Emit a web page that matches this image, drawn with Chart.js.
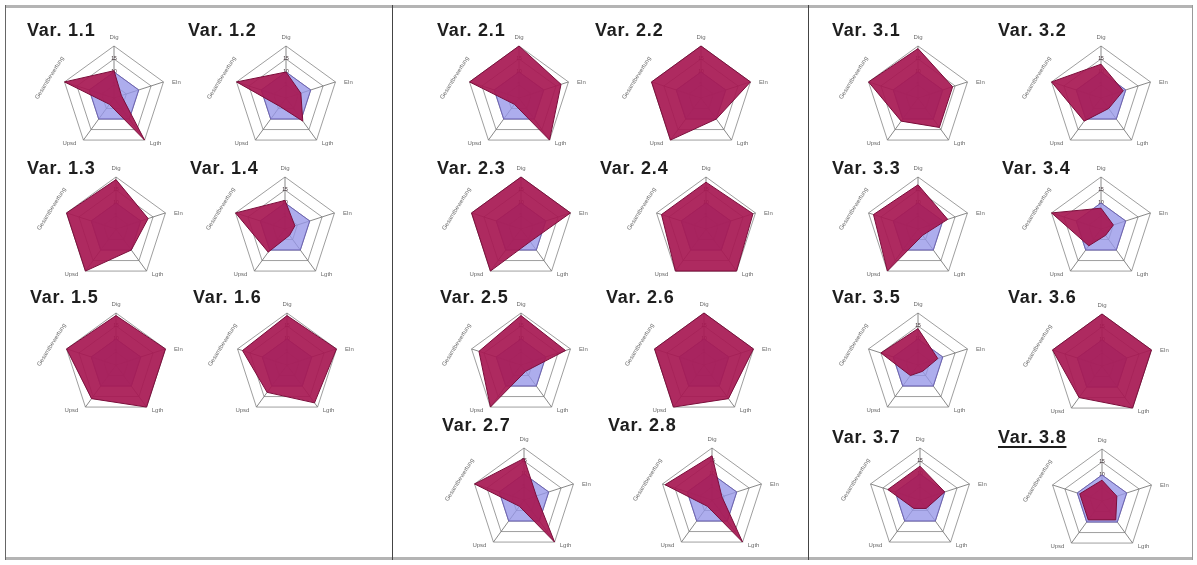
<!DOCTYPE html>
<html>
<head>
<meta charset="utf-8">
<script src="https://cdn.jsdelivr.net/npm/chart.js@4.4.1/dist/chart.umd.min.js"></script>
<style>
  html, body { margin: 0; padding: 0; background: #ffffff; }
  #board { position: relative; width: 1197px; height: 565px; overflow: hidden; background: #fff; }
  .frame { position: absolute; background: #555; }
  .title { position: absolute; font: bold 18px "Liberation Sans", Arial, sans-serif; color: #1e1e1e; line-height: 18px; white-space: nowrap; transform: translateY(-50%); letter-spacing: 0.8px; }
  .title.u { text-decoration: underline; text-decoration-thickness: 2px; text-underline-offset: 3px; }
  canvas { position: absolute; }
</style>
</head>
<body>
<div id="board"></div>
<script>
// Axis names, clockwise from the top
const axisLabels = ['Dig', 'Eln', 'Lgth', 'Upsd', 'Gesamtbewertung'];

// Reference profile drawn in blue behind every variant
const referenceValues = [10, 10, 10, 10, 10];

// Variant names per group
const group1Names = ['Var. 1.1', 'Var. 1.2', 'Var. 1.3', 'Var. 1.4', 'Var. 1.5', 'Var. 1.6'];
const group2Names = ['Var. 2.1', 'Var. 2.2', 'Var. 2.3', 'Var. 2.4', 'Var. 2.5', 'Var. 2.6', 'Var. 2.7', 'Var. 2.8'];
const group3Names = ['Var. 3.1', 'Var. 3.2', 'Var. 3.3', 'Var. 3.4', 'Var. 3.5', 'Var. 3.6', 'Var. 3.7', 'Var. 3.8'];

// Variant profiles (Dig, Eln, Lgth, Upsd, Gesamtbewertung)
const group1Values = [
  [10.5, 3, 20, 3, 20],
  [10, 6, 11, 4, 20],
  [19, 13, 10, 20, 20],
  [11, 4, 3, 11, 20],
  [19, 20, 20, 16, 20],
  [19, 20, 18, 13, 18]
];
const group2Values = [
  [20, 17, 20, 3, 20],
  [20, 20, 10, 20, 20],
  [20, 20, 6, 20, 20],
  [18, 19, 20, 20, 18],
  [19, 18, 3, 20, 17],
  [20, 20, 16, 20, 20],
  [16, 5, 20, 3, 20],
  [17, 4, 20, 3, 19]
];
const group3Values = [
  [19, 14, 14, 11, 20],
  [13, 9, 5, 11, 20],
  [17, 12, 3, 20, 18],
  [8, 5, 3, 8, 20],
  [14, 8, 3, 5, 15],
  [20, 20, 20, 15, 20],
  [13, 10, 4, 4, 13],
  [8, 6, 9, 9, 9]
];

// Scale range and ring step
const scaleMax = 20;
const scaleStep = 5;

// ---- layout (radar centres and title anchors) ----
const radius = 57;
const centres = [
  [114, 98], [286, 98], [116, 229], [285, 229], [116, 365], [287, 365],
  [519, 98], [701, 98], [521, 229], [706, 229], [521, 365], [704, 365], [524, 500], [712, 500],
  [918, 98], [1101, 98], [918, 229], [1101, 229], [918, 365], [1102, 366], [920, 500], [1102, 501]
];
const titleAnchors = [
  [27, 30], [188, 30], [27, 168], [190, 168], [30, 297], [193, 297],
  [437, 30], [595, 30], [437, 168], [600, 168], [440, 297], [606, 297], [442, 425], [608, 425],
  [832, 30], [998, 30], [832, 168], [1002, 168], [832, 297], [1008, 297], [832, 437], [998, 437]
];

const board = document.getElementById('board');

// Frame and panel separators
function rule(x, y, w, h, color) {
  const d = document.createElement('div');
  d.className = 'frame';
  Object.assign(d.style, { left: x + 'px', top: y + 'px', width: w + 'px', height: h + 'px', background: color });
  board.appendChild(d);
}
rule(5, 5, 1188, 3, '#b4b4b4');
rule(5, 557, 1188, 3, '#b4b4b4');
rule(5, 5, 1, 555, '#666');
rule(1192, 5, 1, 555, '#999');
rule(392, 5, 1, 555, '#444');
rule(808, 5, 1, 555, '#444');

// Axis captions drawn around the pentagon; the fifth one runs along the slanted edge
const axisCaptions = {
  id: 'axisCaptions',
  afterDraw(chart) {
    const s = chart.scales.r;
    const ctx = chart.ctx;
    const offs = [[0, -9], [13, 0], [11, 3], [-14, 3]];
    ctx.save();
    ctx.font = '6px "Liberation Sans", Arial, sans-serif';
    ctx.fillStyle = '#6a6a6a';
    ctx.textAlign = 'center';
    ctx.textBaseline = 'middle';
    for (let i = 0; i < 4; i++) {
      const p = s.getPointPosition(i, s.drawingArea);
      ctx.fillText(axisLabels[i], p.x + offs[i][0], p.y + offs[i][1]);
    }
    const p = s.getPointPosition(4, s.drawingArea);
    ctx.translate(p.x - 15, p.y - 4);
    ctx.rotate(-58 * Math.PI / 180);
    ctx.fillText(axisLabels[4], 0, 0);
    ctx.restore();
  }
};

const allNames = group1Names.concat(group2Names, group3Names);
const allValues = group1Values.concat(group2Values, group3Values);

const CW = 210, CH = 160;
allNames.forEach((name, k) => {
  const [cx, cy] = centres[k];
  const t = document.createElement('div');
  t.className = 'title' + (name === 'Var. 3.8' ? ' u' : '');
  t.textContent = name;
  t.style.left = titleAnchors[k][0] + 'px';
  t.style.top = titleAnchors[k][1] + 'px';

  const cv = document.createElement('canvas');
  cv.width = CW; cv.height = CH;
  cv.style.left = (cx - CW / 2) + 'px';
  cv.style.top = (cy - CH / 2) + 'px';
  board.appendChild(cv);
  board.appendChild(t);

  const padX = CW / 2 - radius, padY = CH / 2 - radius;
  new Chart(cv, {
    type: 'radar',
    data: {
      labels: axisLabels,
      datasets: [
        {
          // variant profile, kept in front of the reference
          data: allValues[k],
          order: 0,
          fill: 'origin',
          backgroundColor: 'rgba(168, 26, 84, 0.93)',
          borderColor: '#7a0d3a',
          borderWidth: 1,
          pointRadius: 0,
          tension: 0
        },
        {
          data: referenceValues,
          order: 1,
          fill: 'origin',
          backgroundColor: 'rgba(150, 150, 232, 0.78)',
          borderColor: '#6c62b4',
          borderWidth: 1,
          pointRadius: 0,
          tension: 0
        }
      ]
    },
    options: {
      responsive: false,
      animation: false,
      events: [],
      layout: { padding: { left: padX, right: padX, top: padY, bottom: padY } },
      plugins: {
        legend: { display: false },
        tooltip: { enabled: false },
        filler: { drawTime: 'beforeDatasetDraw', propagate: false }
      },
      scales: {
        r: {
          min: 0,
          max: scaleMax,
          ticks: {
            stepSize: scaleStep,
            showLabelBackdrop: false,
            font: { size: 5, family: '"Liberation Sans", Arial, sans-serif' },
            color: '#3a2a30',
            callback: v => (v === scaleMax ? '' : v)
          },
          grid: { color: '#858585', lineWidth: 0.8, circular: false },
          angleLines: { color: '#6a6a6a', lineWidth: 0.8 },
          pointLabels: { display: false }
        }
      }
    },
    plugins: [axisCaptions]
  });
});
</script>
</body>
</html>
